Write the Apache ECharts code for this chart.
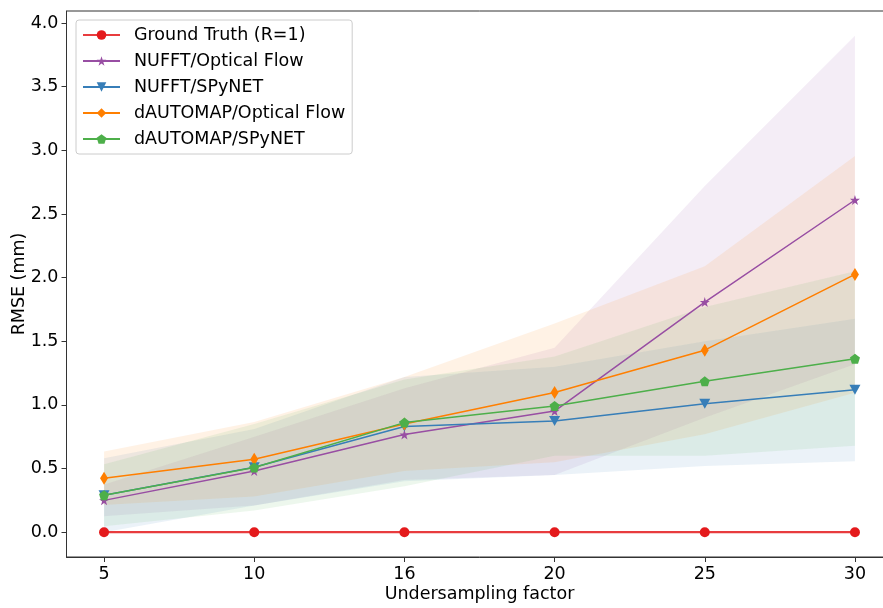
<!DOCTYPE html>
<html>
<head>
<meta charset="utf-8">
<script src="https://cdn.jsdelivr.net/npm/echarts@6/dist/echarts.min.js"></script>
<style>
  html, body { margin: 0; padding: 0; background: #fff; overflow: hidden; width: 883px; height: 608px; }
  /* The plot frame runs a little past the right edge of the page */
  #chart { width: 893px; height: 608px; }
</style>
</head>
<body>
<div id="chart"></div>
<script>
// Undersampling factors (evenly spaced categories on the x axis)
const categories = ['5', '10', '16', '20', '25', '30'];
const xIndex = [0, 1, 2, 3, 4, 5];
const yTicks = [0, 0.5, 1, 1.5, 2, 2.5, 3, 3.5, 4];

// Mean RMSE (mm) per method
const groundTruth = [0, 0, 0, 0, 0, 0];
const nufftOF = [0.25, 0.48, 0.767, 0.952, 1.808, 2.61];
const nufftSpy = [0.29, 0.51, 0.83, 0.874, 1.01, 1.12];
const dautoOF = [0.424, 0.573, 0.85, 1.097, 1.43, 2.025];
const dautoSpy = [0.29, 0.508, 0.861, 0.991, 1.185, 1.363];

// Spread bands (lower / upper)
const nufftOFLo = [0.125, 0.21, 0.41, 0.45, 0.90, 1.32];
const nufftOFHi = [0.375, 0.75, 1.13, 1.45, 2.72, 3.90];
const nufftSpyLo = [0.0, 0.21, 0.40, 0.45, 0.52, 0.557];
const nufftSpyHi = [0.58, 0.81, 1.22, 1.30, 1.50, 1.677];
const dautoOFLo = [0.214, 0.28, 0.48, 0.55, 0.77, 1.095];
const dautoOFHi = [0.634, 0.866, 1.22, 1.64, 2.09, 2.955];
const dautoSpyLo = [0.047, 0.17, 0.36, 0.60, 0.60, 0.68];
const dautoSpyHi = [0.534, 0.85, 1.20, 1.38, 1.77, 2.05];

const C = {
  red: '#e41a1c', purple: '#984ea3', blue: '#377eb8', orange: '#ff7f00', green: '#4daf4a'
};

const starPath = 'path://M100 0 L122.45 69.1 L195.1 69.1 L136.3 111.8 L158.8 180.9 L100 138.2 L41.2 180.9 L63.7 111.8 L4.9 69.1 L77.55 69.1 Z';
const pentagonPath = 'path://M100 0 L195.1 69.1 L158.8 180.9 L41.2 180.9 L4.9 69.1 Z';

function hexToRgba(hex, a) {
  const n = parseInt(hex.slice(1), 16);
  return 'rgba(' + ((n >> 16) & 255) + ',' + ((n >> 8) & 255) + ',' + (n & 255) + ',' + a + ')';
}

// Shaded band between lo and hi, drawn as one polygon
function band(lo, hi, color) {
  return {
    type: 'custom',
    silent: true,
    z: 1,
    data: xIndex.map((x, i) => [x, lo[i], hi[i]]),
    encode: { x: 0, y: [1, 2] },
    renderItem: function (params, api) {
      if (params.dataIndex !== 0) return null;
      const pts = [];
      for (let i = 0; i < xIndex.length; i++) pts.push(api.coord([xIndex[i], hi[i]]));
      for (let i = xIndex.length - 1; i >= 0; i--) pts.push(api.coord([xIndex[i], lo[i]]));
      return { type: 'polygon', shape: { points: pts }, style: { fill: hexToRgba(color, 0.1) } };
    }
  };
}

function line(name, values, color, symbol, size, extra) {
  return Object.assign({
    type: 'line',
    name: name,
    z: 3,
    data: xIndex.map((x, i) => [x, values[i]]),
    symbol: symbol,
    symbolSize: size,
    showAllSymbol: true,
    itemStyle: { color: color },
    lineStyle: { color: color, width: 1.5 },
    emphasis: { disabled: true }
  }, extra || {});
}

const chart = echarts.init(document.getElementById('chart'), null, { renderer: 'canvas' });

const axisText = { fontFamily: 'DejaVu Sans', fontSize: 17.5, color: '#000' };
const spine = { show: true, onZero: false, lineStyle: { color: '#333', width: 1 } };

chart.setOption({
  animation: false,
  textStyle: { fontFamily: 'DejaVu Sans' },
  grid: {
    left: 66.5, right: 0.5, top: 11, bottom: 51,
    containLabel: false,
    outerBoundsMode: 'none',
    show: true, borderColor: '#333', borderWidth: 1, backgroundColor: 'transparent'
  },
  legend: {
    left: 76, top: 20,
    orient: 'vertical',
    data: ['Ground Truth (R=1)', 'NUFFT/Optical Flow', 'NUFFT/SPyNET', 'dAUTOMAP/Optical Flow', 'dAUTOMAP/SPyNET'],
    itemWidth: 37, itemHeight: 12, itemGap: 6,
    padding: [5, 7, 5, 6],
    backgroundColor: 'rgba(255,255,255,0.8)',
    borderColor: '#cccccc', borderWidth: 1, borderRadius: 3,
    textStyle: { fontFamily: 'DejaVu Sans', fontSize: 17.5, color: '#000', lineHeight: 20, padding: [0, 0, 0, 9] }
  },
  xAxis: {
    type: 'value',
    min: -0.25, max: 5.25,
    name: 'Undersampling factor',
    nameLocation: 'middle', nameGap: 28,
    nameMoveOverlap: false,
    nameTextStyle: axisText,
    axisLine: spine,
    axisTick: { show: true, length: 5, customValues: xIndex, lineStyle: { color: '#333' } },
    axisLabel: {
      customValues: xIndex, margin: 8, fontFamily: 'DejaVu Sans', fontSize: 17.5, color: '#000',
      formatter: v => categories[Math.round(v)]
    },
    splitLine: { show: false }
  },
  yAxis: {
    type: 'value',
    min: -0.195, max: 4.095,
    name: 'RMSE (mm)',
    nameLocation: 'middle', nameGap: 38,
    nameMoveOverlap: false,
    nameTextStyle: axisText,
    axisLine: spine,
    axisTick: { show: true, length: 5, customValues: yTicks, lineStyle: { color: '#333' } },
    axisLabel: {
      customValues: yTicks, margin: 8, fontFamily: 'DejaVu Sans', fontSize: 17.5, color: '#000',
      formatter: v => v.toFixed(1)
    },
    splitLine: { show: false }
  },
  series: [
    band(nufftOFLo, nufftOFHi, C.purple),
    band(nufftSpyLo, nufftSpyHi, C.blue),
    band(dautoOFLo, dautoOFHi, C.orange),
    band(dautoSpyLo, dautoSpyHi, C.green),
    line('Ground Truth (R=1)', groundTruth, C.red, 'circle', 10, { lineStyle: { color: C.red, width: 2.2, opacity: 0.85 } }),
    line('NUFFT/Optical Flow', nufftOF, C.purple, starPath, 10),
    line('NUFFT/SPyNET', nufftSpy, C.blue, 'triangle', [11, 10], { symbolRotate: 180 }),
    line('dAUTOMAP/Optical Flow', dautoOF, C.orange, 'diamond', [8, 13]),
    line('dAUTOMAP/SPyNET', dautoSpy, C.green, pentagonPath, 10)
  ]
});
</script>
</body>
</html>
